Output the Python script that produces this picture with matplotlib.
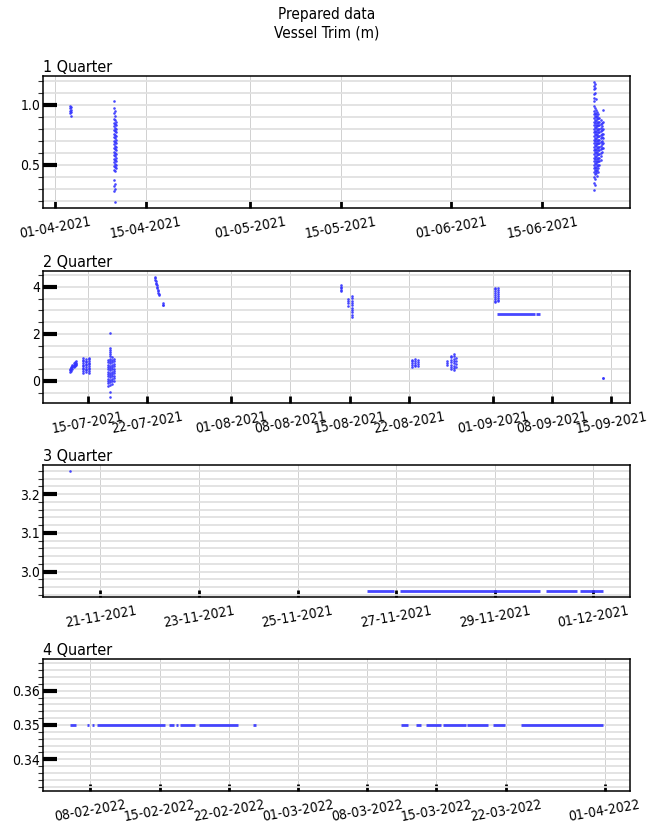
import matplotlib
matplotlib.use("Agg")
import matplotlib.pyplot as plt
import matplotlib.dates as mdates
from matplotlib.ticker import MultipleLocator, AutoMinorLocator
import pandas as pd

plt.rcParams['font.family'] = ['DejaVu Sans']
plt.rcParams['font.stretch'] = 'condensed'

# ---------------- data ----------------
# Quarter 1: sampled columns (timestamp -> trim readings)
q1_times = ['2021-04-03 06:00', '2021-04-03 10:00',
            '2021-04-10 03:00', '2021-04-10 07:00', '2021-04-10 10:00',
            '2021-06-22 22:00', '2021-06-23 02:00', '2021-06-23 06:00',
            '2021-06-23 10:00', '2021-06-23 14:00', '2021-06-23 19:00',
            '2021-06-24 00:00', '2021-06-24 05:00', '2021-06-24 10:00']
q1_values = [
    [0.99, 0.97, 0.95, 0.93],
    [0.98, 0.96, 0.94, 0.91],
    [1.03, 0.97, 0.93, 0.88, 0.85, 0.82, 0.79, 0.76, 0.73, 0.70, 0.67, 0.64,
     0.61, 0.58, 0.55, 0.52, 0.49, 0.46, 0.37, 0.32, 0.28],
    [0.95, 0.91, 0.87, 0.84, 0.81, 0.78, 0.75, 0.72, 0.69, 0.66, 0.63, 0.60,
     0.57, 0.54, 0.51, 0.48, 0.45, 0.34, 0.30, 0.19],
    [0.86, 0.83, 0.80, 0.77, 0.74, 0.71, 0.68, 0.65, 0.62, 0.59, 0.56, 0.53,
     0.50, 0.47],
    [1.19, 1.16, 1.13, 1.09, 1.06, 1.03, 0.99, 0.95, 0.92, 0.89, 0.86, 0.83,
     0.80, 0.77, 0.74, 0.71, 0.68, 0.65, 0.62, 0.59, 0.56, 0.53, 0.50, 0.47,
     0.44, 0.40, 0.35, 0.29],
    [1.17, 1.14, 1.10, 0.97, 0.935, 0.905, 0.875, 0.845, 0.815, 0.785, 0.755,
     0.725, 0.695, 0.665, 0.635, 0.605, 0.575, 0.545, 0.515, 0.485, 0.455,
     0.42, 0.38, 0.33],
    [1.05, 0.96, 0.925, 0.895, 0.865, 0.835, 0.805, 0.775, 0.745, 0.715, 0.685,
     0.655, 0.625, 0.595, 0.565, 0.535, 0.505, 0.475, 0.445, 0.43],
    [0.94, 0.91, 0.88, 0.85, 0.82, 0.79, 0.76, 0.73, 0.70, 0.67, 0.64, 0.61,
     0.58, 0.55, 0.52, 0.49, 0.46, 0.41],
    [0.92, 0.89, 0.86, 0.83, 0.80, 0.77, 0.74, 0.71, 0.68, 0.65, 0.62, 0.59,
     0.56, 0.53, 0.50, 0.47, 0.44],
    [0.89, 0.86, 0.83, 0.80, 0.77, 0.74, 0.71, 0.68, 0.65, 0.62, 0.59, 0.56,
     0.53, 0.50],
    [0.87, 0.84, 0.81, 0.78, 0.75, 0.72, 0.69, 0.66, 0.63, 0.60, 0.57, 0.54],
    [0.85, 0.82, 0.79, 0.76, 0.73, 0.70, 0.67, 0.64, 0.61],
    [0.96, 0.86, 0.80, 0.76, 0.72, 0.68, 0.64],
]

# Quarter 2: sampled columns
q2_times = ['2021-07-12 21:00', '2021-07-13 00:00', '2021-07-13 04:00',
            '2021-07-13 08:00', '2021-07-13 12:00', '2021-07-13 15:00',
            '2021-07-14 12:00', '2021-07-14 20:00', '2021-07-15 03:00',
            '2021-07-17 10:00', '2021-07-17 16:00', '2021-07-17 22:00',
            '2021-07-18 03:00',
            '2021-07-22 22:00', '2021-07-23 01:00', '2021-07-23 04:00',
            '2021-07-23 07:00', '2021-07-23 10:00', '2021-07-23 21:00',
            '2021-07-23 23:00',
            '2021-08-14 00:00', '2021-08-14 20:00', '2021-08-15 06:00',
            '2021-08-22 10:00', '2021-08-22 18:00', '2021-08-23 02:00',
            '2021-08-26 14:00', '2021-08-27 00:00', '2021-08-27 08:00',
            '2021-08-27 14:00',
            '2021-09-01 05:00', '2021-09-01 14:00',
            '2021-09-14 01:00']
q2_values = [
    [0.40, 0.45, 0.50],
    [0.44, 0.50, 0.56, 0.60],
    [0.52, 0.58, 0.64, 0.68],
    [0.58, 0.64, 0.70, 0.75],
    [0.62, 0.68, 0.74, 0.80],
    [0.66, 0.72, 0.78, 0.83],
    [0.35, 0.42, 0.49, 0.56, 0.63, 0.70, 0.77, 0.84, 0.91, 0.97],
    [0.38, 0.45, 0.52, 0.59, 0.66, 0.73, 0.80, 0.87, 0.94],
    [0.36, 0.43, 0.50, 0.57, 0.64, 0.71, 0.78, 0.85, 0.92, 0.96],
    [-0.20, -0.10, 0.00, 0.10, 0.20, 0.30, 0.40, 0.50, 0.60, 0.70, 0.80, 0.90],
    [2.05, 1.40, 1.33, 1.25, 1.15, 1.05, 0.95, 0.85, 0.75, 0.65, 0.55, 0.45,
     0.35, 0.25, 0.15, 0.05, -0.05, -0.15, -0.45, -0.68],
    [1.00, 0.90, 0.80, 0.70, 0.60, 0.50, 0.40, 0.30, 0.20, 0.10, 0.00, -0.12],
    [0.95, 0.85, 0.72, 0.62, 0.52, 0.42, 0.32, 0.22, 0.12, 0.02],
    [4.42, 4.36, 4.30],
    [4.24, 4.18, 4.12],
    [4.06, 4.00, 3.94],
    [3.88, 3.82, 3.76],
    [3.70, 3.64],
    [3.30, 3.25],
    [3.22],
    [4.06, 4.00, 3.94, 3.88, 3.82],
    [3.48, 3.40, 3.30, 3.20],
    [3.62, 3.52, 3.42, 3.32, 3.22, 3.12, 3.02, 2.92, 2.82, 2.74],
    [0.60, 0.68, 0.76, 0.84, 0.90],
    [0.62, 0.70, 0.78, 0.86, 0.92],
    [0.64, 0.72, 0.80, 0.88],
    [0.70, 0.78, 0.86],
    [0.50, 0.60, 0.70, 0.80, 0.90, 1.00, 1.08],
    [0.45, 0.55, 0.65, 0.75, 0.85, 0.95, 1.05, 1.15],
    [0.60, 0.72, 0.84, 0.96],
    [3.34, 3.42, 3.50, 3.58, 3.66, 3.74, 3.82, 3.90, 3.97],
    [3.38, 3.46, 3.54, 3.62, 3.70, 3.78, 3.86, 3.94],
    [0.11, 0.13],
]
# constant-value stretches (start, end, value)
q2_run_start = ['2021-09-01 12:00', '2021-09-06 03:00']
q2_run_end = ['2021-09-06 00:00', '2021-09-06 13:00']
q2_run_value = [2.85, 2.85]

# Quarter 3
q3_times = ['2021-11-20 09:00']
q3_values = [[3.26]]
q3_run_start = ['2021-11-26 10:00', '2021-11-27 02:00', '2021-11-30 01:00',
                '2021-11-30 17:30']
q3_run_end = ['2021-11-26 23:00', '2021-11-29 22:00', '2021-11-30 16:00',
              '2021-12-01 05:00']
q3_run_value = [2.95, 2.95, 2.95, 2.95]

# Quarter 4
q4_times = []
q4_values = []
q4_run_start = ['2022-02-05 22:00', '2022-02-07 15:00', '2022-02-08 03:00',
                '2022-02-08 16:00', '2022-02-16 00:00', '2022-02-16 16:00',
                '2022-02-17 02:00', '2022-02-18 23:00', '2022-02-24 12:00',
                '2022-03-11 11:00', '2022-03-12 23:00', '2022-03-13 22:00',
                '2022-03-15 16:00', '2022-03-18 02:00', '2022-03-20 17:00',
                '2022-03-23 14:00']
q4_run_end = ['2022-02-06 14:00', '2022-02-07 20:00', '2022-02-08 10:00',
              '2022-02-15 13:00', '2022-02-16 10:00', '2022-02-16 22:00',
              '2022-02-18 15:00', '2022-02-22 23:00', '2022-02-24 17:00',
              '2022-03-12 02:00', '2022-03-13 10:00', '2022-03-15 11:00',
              '2022-03-17 23:00', '2022-03-20 05:00', '2022-03-21 22:00',
              '2022-03-31 21:00']
q4_run_value = [0.35] * 16

titles = ['1 Quarter', '2 Quarter', '3 Quarter', '4 Quarter']
y_major = [0.5, 2, 0.1, 0.01]
x_monthdays = [[1, 15], [1, 8, 15, 22], list(range(1, 32, 2)), [1, 8, 15, 22]]

panels = [
    (q1_times, q1_values, [], [], []),
    (q2_times, q2_values, q2_run_start, q2_run_end, q2_run_value),
    (q3_times, q3_values, q3_run_start, q3_run_end, q3_run_value),
    (q4_times, q4_values, q4_run_start, q4_run_end, q4_run_value),
]

# ---------------- figure ----------------
W, H = 654, 823
fig = plt.figure(figsize=(W / 100, H / 100), dpi=100)
fig.text(0.5, 1 - 7 / H, 'Prepared data\nVessel Trim (m)', ha='center',
         va='top', fontsize=11, linespacing=1.25)

tops = [76, 271, 465, 659]
ax_h = 132
left_px, right_px = 43, 630
point_color = '#3333ff'

for i, (times, values, rs, re_, rv) in enumerate(panels):
    top = tops[i]
    ax = fig.add_axes([left_px / W, 1 - (top + ax_h) / H,
                       (right_px - left_px) / W, ax_h / H])
    ax.set_axisbelow(True)

    xs, ys = [], []
    for t, vals in zip(times, values):
        xs += [pd.Timestamp(t)] * len(vals)
        ys += vals
    if xs:
        ax.scatter(xs, ys, s=3.5, color=point_color, linewidths=0, alpha=0.9,
                   zorder=3)
    if rs:
        ax.hlines(rv, [pd.Timestamp(s) for s in rs],
                  [pd.Timestamp(e) for e in re_], colors=point_color,
                  linewidth=2.0, alpha=0.9, zorder=3)

    ax.xaxis.set_major_locator(mdates.DayLocator(bymonthday=x_monthdays[i]))
    ax.xaxis.set_major_formatter(mdates.DateFormatter('%d-%m-%Y'))
    ax.yaxis.set_major_locator(MultipleLocator(y_major[i]))
    ax.yaxis.set_minor_locator(AutoMinorLocator())

    ax.grid(which='both', axis='y', color='#e0e0e0', linewidth=1.3)
    ax.grid(which='major', axis='x', color='#d0d0d0', linewidth=0.7)

    ax.tick_params(axis='y', which='major', direction='in', length=10,
                   width=3, color='black', labelsize=10, pad=2)
    ax.tick_params(axis='y', which='minor', direction='out', length=3.5,
                   width=0.8, color='#333333')
    ax.tick_params(axis='x', which='major', direction='in', length=5,
                   width=2.0, color='black', labelsize=10, pad=5)
    for lab in ax.get_xticklabels():
        lab.set_rotation(10)
        lab.set_ha('center')
    for sp in ax.spines.values():
        sp.set_linewidth(1.1)
        sp.set_color('black')

    ax.set_title(titles[i], loc='left', fontsize=11.5, pad=3)

fig.savefig('out.png', dpi=100)
